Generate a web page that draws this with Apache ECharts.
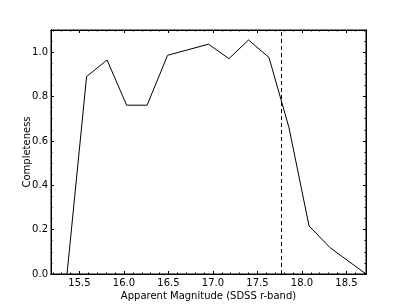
<!DOCTYPE html>
<html>
<head>
<meta charset="utf-8">
<script src="https://cdn.jsdelivr.net/npm/echarts@6/dist/echarts.min.js"></script>
<style>
  html, body { margin: 0; padding: 0; background: #fff; }
  #chart { width: 407px; height: 305px; }
</style>
</head>
<body>
<div id="chart"></div>
<script>
// completeness vs apparent magnitude
const mags = [15.36, 15.58, 15.81, 16.03, 16.26, 16.49, 16.95, 17.18, 17.40, 17.63, 17.855, 18.08, 18.315, 18.72];
const completeness = [0.0, 0.89, 0.965, 0.761, 0.761, 0.986, 1.036, 0.971, 1.055, 0.976, 0.659, 0.2165, 0.119, 0.0];
const magLimit = 17.77;

const xMajor = [15.5, 16.0, 16.5, 17.0, 17.5, 18.0, 18.5];
const xMinor = [15.2, 15.3, 15.4, 15.6, 15.7, 15.8, 15.9, 16.1, 16.2, 16.3, 16.4, 16.6, 16.7, 16.8, 16.9,
  17.1, 17.2, 17.3, 17.4, 17.6, 17.7, 17.8, 17.9, 18.1, 18.2, 18.3, 18.4, 18.6, 18.7];
const yMajor = [0.0, 0.2, 0.4, 0.6, 0.8, 1.0];
const yMinor = [0.05, 0.1, 0.15, 0.25, 0.3, 0.35, 0.45, 0.5, 0.55, 0.65, 0.7, 0.75, 0.85, 0.9, 0.95, 1.05];

const X_MIN = 15.18, X_MAX = 18.72, Y_MIN = 0, Y_MAX = 1.1;
const FONT = 'DejaVu Sans';
const FS = 10;

// one axis per side per tick kind; only the bottom/left major ones carry labels
function xAx(pos, vals, len, labels) {
  return {
    type: 'value', position: pos, min: X_MIN, max: X_MAX,
    axisLine: { show: true, onZero: false, lineStyle: { color: '#000', width: 1 } },
    splitLine: { show: false },
    axisTick: { show: true, inside: true, length: len, customValues: vals, lineStyle: { color: '#000', width: 1 } },
    axisLabel: labels
      ? { show: true, customValues: vals, color: '#000', fontFamily: FONT, fontSize: FS, margin: 4, formatter: (v) => v.toFixed(1) }
      : { show: false },
    name: labels && pos === 'bottom' ? 'Apparent Magnitude (SDSS r-band)' : '',
    nameLocation: 'middle', nameGap: 17, nameMoveOverlap: false,
    nameTextStyle: { color: '#000', fontFamily: FONT, fontSize: FS },
  };
}
function yAx(pos, vals, len, labels) {
  return {
    type: 'value', position: pos, min: Y_MIN, max: Y_MAX,
    axisLine: { show: true, onZero: false, lineStyle: { color: '#000', width: 1 } },
    splitLine: { show: false },
    axisTick: { show: true, inside: true, length: len, customValues: vals, lineStyle: { color: '#000', width: 1 } },
    axisLabel: labels
      ? { show: true, customValues: vals, color: '#000', fontFamily: FONT, fontSize: FS, margin: 3, formatter: (v) => v.toFixed(1) }
      : { show: false },
    name: labels && pos === 'left' ? 'Completeness' : '',
    nameLocation: 'middle', nameGap: 19, nameMoveOverlap: false,
    nameTextStyle: { color: '#000', fontFamily: FONT, fontSize: FS },
  };
}

const chart = echarts.init(document.getElementById('chart'), null, { renderer: 'canvas' });
chart.setOption({
  animation: false,
  backgroundColor: '#fff',
  grid: {
    left: 51, right: 41, top: 30, bottom: 31, containLabel: false, outerBoundsMode: 'none',
    show: true, borderColor: '#000', borderWidth: 1, backgroundColor: 'transparent',
  },
  xAxis: [
    xAx('bottom', xMajor, 3, true),
    xAx('bottom', xMinor, 1.5, false),
    xAx('top', xMajor, 3, false),
    xAx('top', xMinor, 1.5, false),
  ],
  yAxis: [
    yAx('left', yMajor, 3, true),
    yAx('left', yMinor, 1.5, false),
    yAx('right', yMajor, 3, false),
    yAx('right', yMinor, 1.5, false),
  ],
  series: [{
    type: 'line',
    xAxisIndex: 0, yAxisIndex: 0,
    data: mags.map((m, i) => [m, completeness[i]]),
    showSymbol: false, symbol: 'none',
    lineStyle: { color: '#000', width: 1 },
    markLine: {
      silent: true, symbol: 'none', label: { show: false },
      lineStyle: { color: '#000', width: 1, type: [4, 3] },
      data: [{ xAxis: magLimit }],
    },
  }],
});
</script>
</body>
</html>
